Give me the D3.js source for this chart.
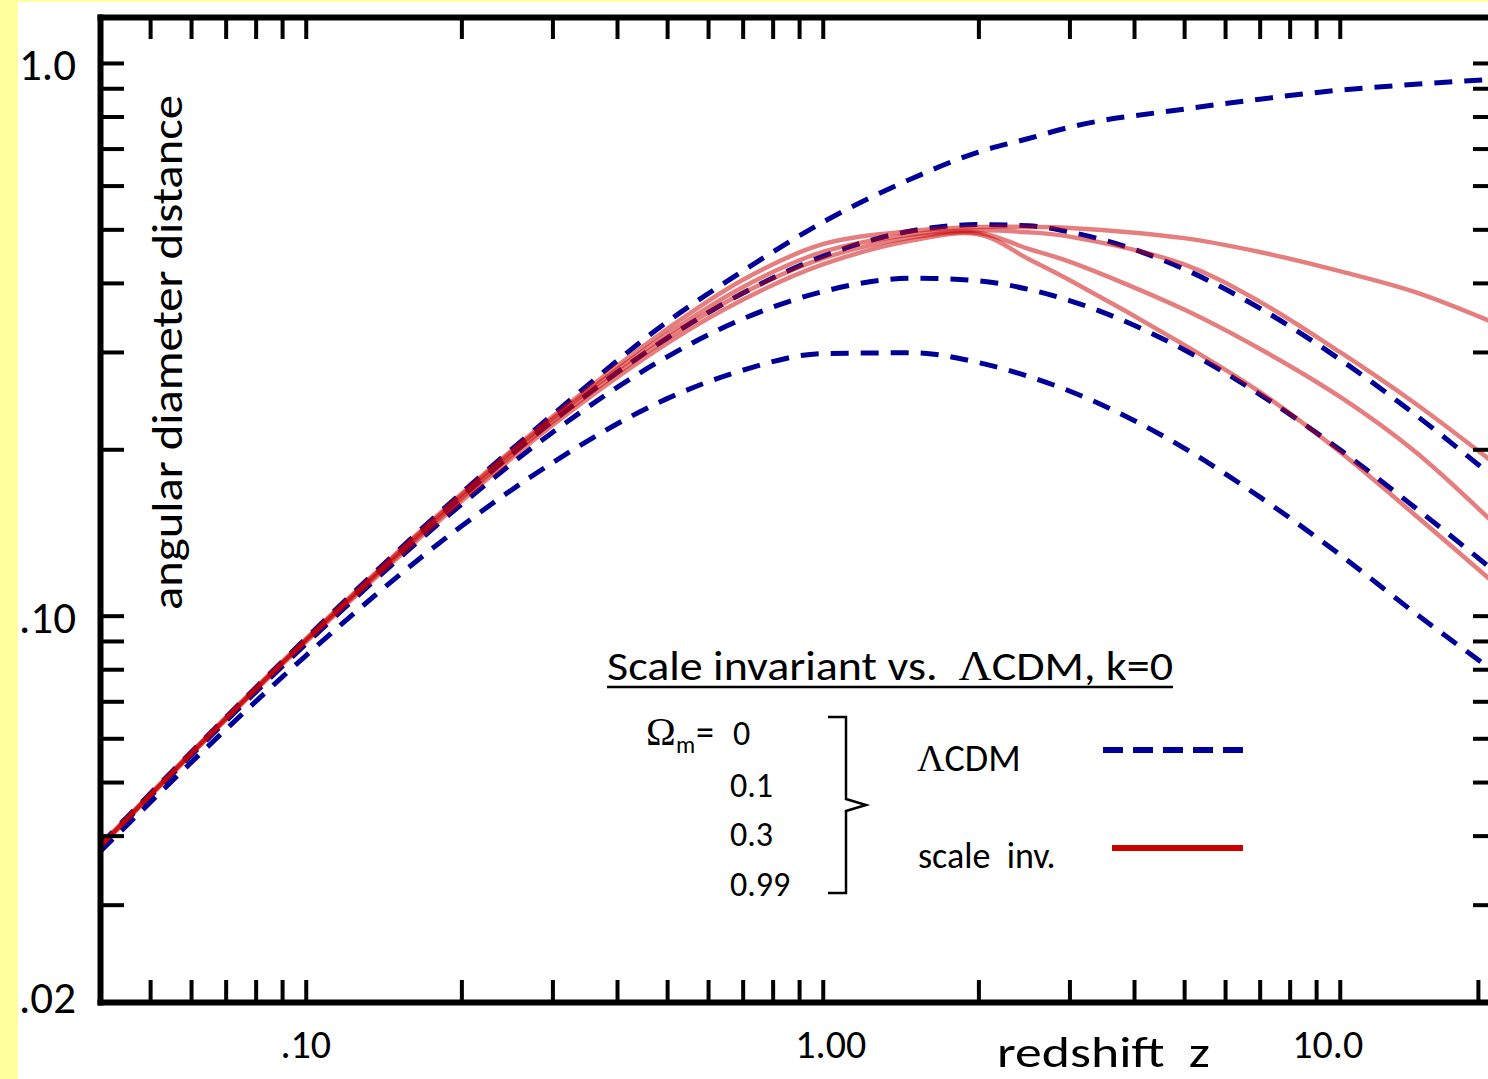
<!DOCTYPE html>
<html lang="en">
<head>
<meta charset="UTF-8">
<title>Angular diameter distance vs redshift</title>
<script src="https://d3js.org/d3.v7.min.js"></script>
<style>
  html, body { margin: 0; padding: 0; background: #ffff9e; }
  svg { display: block; }
  text { font-family: Carlito, Lato, "Open Sans", sans-serif; fill: #000; white-space: pre; }
  .greek { font-family: "Liberation Serif", serif; }
</style>
</head>
<body>
<svg width="1488" height="1079"></svg>
<script>
// redshift samples shared by all curves
const zValues = [0.04, 0.07, 0.1, 0.2, 0.3, 0.5, 0.7, 1, 1.5, 2, 2.5, 3, 5, 7, 10, 14, 20];

// LCDM, k=0 (dashed blue), Omega_m = 0, 0.1, 0.3, 0.99
const lcdm0   = [0.0385, 0.0654, 0.0909, 0.1667, 0.2308, 0.340, 0.420, 0.515, 0.620, 0.690, 0.730, 0.765, 0.825, 0.860, 0.893, 0.915, 0.935];
const lcdm01  = [0.0382, 0.0651, 0.0902, 0.1639, 0.2248, 0.3178, 0.3832, 0.4468, 0.4977, 0.5100, 0.5075, 0.4946, 0.4237, 0.360, 0.291, 0.231, 0.177];
const lcdm03  = [0.0381, 0.0644, 0.0888, 0.1589, 0.2145, 0.294, 0.3442, 0.3858, 0.4079, 0.4035, 0.3894, 0.3717, 0.3028, 0.2515, 0.1997, 0.1568, 0.120];
const lcdm099 = [0.0374, 0.0622, 0.0846, 0.1452, 0.1891, 0.2470, 0.2780, 0.2980, 0.2990, 0.2870, 0.2710, 0.2550, 0.2010, 0.1640, 0.129, 0.101, 0.079];

// scale invariant (solid red), same Omega_m values
const si0   = [0.0384, 0.0654, 0.0907, 0.166, 0.229, 0.330, 0.405, 0.470, 0.497, 0.505, 0.505, 0.503, 0.482, 0.455, 0.420, 0.385, 0.338];
const si01  = [0.0383, 0.0652, 0.0904, 0.165, 0.227, 0.323, 0.393, 0.455, 0.490, 0.498, 0.494, 0.485, 0.432, 0.370, 0.300, 0.242, 0.188];
const si03  = [0.0382, 0.0650, 0.0900, 0.163, 0.224, 0.317, 0.383, 0.443, 0.484, 0.493, 0.461, 0.437, 0.358, 0.304, 0.249, 0.198, 0.146];
const si099 = [0.0381, 0.0648, 0.0896, 0.161, 0.221, 0.311, 0.373, 0.432, 0.478, 0.490, 0.442, 0.405, 0.309, 0.254, 0.198, 0.152, 0.114];

// ticks and labels
const xTicks = [0.05, 0.06, 0.07, 0.08, 0.09, 0.1, 0.2, 0.3, 0.4, 0.5, 0.6, 0.7, 0.8, 0.9, 1, 2, 3, 4, 5, 6, 7, 8, 9, 10];
const xTicksExtra = [18.5];
const yTicks = [0.03, 0.04, 0.05, 0.06, 0.07, 0.08, 0.09, 0.1, 0.2, 0.3, 0.4, 0.5, 0.6, 0.7, 0.8, 0.9, 1.0];
const xLabels = [[0.1, ".10"], [1, "1.00"], [10, "10.0"]];
const yLabels = [[1.0, "1.0"], [0.1, ".10"], [0.02, ".02"]];
const omegaLabels = ["0", "0.1", "0.3", "0.99"];

const svg = d3.select("svg");
svg.append("rect").attr("x", 18).attr("y", 2).attr("width", 1470).attr("height", 1077).attr("fill", "#fff");

const x = d3.scaleLog().domain([0.04, 20]).range([100, 1495.4]);
const y = d3.scaleLog().domain([0.02, 1.211]).range([1002, 17]);

function styleAxis(g) {
    g.select(".domain").attr("stroke", "#000").attr("stroke-width", 6).attr("stroke-linecap", "square");
    g.selectAll(".tick line").attr("stroke", "#000").attr("stroke-width", 4);
    g.selectAll(".tick text").remove();
}

// curves (clipped to the frame)
svg.append("clipPath").attr("id", "plot")
    .append("rect").attr("x", 100).attr("y", 17).attr("width", 1395).attr("height", 985);

const line = d3.line().x(d => x(d[0])).y(d => y(d[1])).curve(d3.curveMonotoneX);
const sharpLine = d3.line().x(d => x(d[0])).y(d => y(d[1])).curve(d3.curveCatmullRom.alpha(0.5));
const plot = svg.append("g").attr("clip-path", "url(#plot)");

[lcdm0, lcdm01, lcdm03, lcdm099].forEach(vals => {
    plot.append("path")
        .attr("d", line(zValues.map((z, i) => [z, vals[i]])))
        .attr("fill", "none")
        .attr("stroke", "#000099")
        .attr("stroke-width", 5)
        .attr("stroke-dasharray", "18,12");
});
[si0, si01, si03, si099].forEach(vals => {
    plot.append("path")
        .attr("d", sharpLine(zValues.map((z, i) => [z, vals[i]])))
        .attr("fill", "none")
        .attr("stroke", "#cc0000")
        .attr("stroke-opacity", 0.5)
        .attr("stroke-width", 4.5);
});

// frame
svg.append("g").attr("transform", "translate(0,1002)")
    .call(d3.axisBottom(x).tickValues(xTicks.concat(xTicksExtra)).tickSize(-22).tickSizeOuter(0).tickFormat(""))
    .call(styleAxis);
svg.append("g").attr("transform", "translate(0,17)")
    .call(d3.axisTop(x).tickValues(xTicks).tickSize(-22).tickSizeOuter(0).tickFormat(""))
    .call(styleAxis);
svg.append("g").attr("transform", "translate(100,0)")
    .call(d3.axisLeft(y).tickValues(yTicks).tickSize(-24).tickSizeOuter(0).tickFormat(""))
    .call(styleAxis);
svg.append("g").attr("transform", "translate(1495,0)")
    .call(d3.axisRight(y).tickValues(yTicks).tickSize(-22).tickSizeOuter(0).tickFormat(""))
    .call(styleAxis);

// tick labels
svg.selectAll(".ylab").data(yLabels).enter().append("text")
    .attr("x", 19).attr("y", d => Math.min(y(d[0]), 996) + 17)
    .attr("font-size", 45).text(d => d[1]);
svg.selectAll(".xlab").data(xLabels).enter().append("text")
    .attr("x", d => x(d[0]) + (d[0] === 1 ? 8 : (d[0] === 10 ? -12 : 0)))
    .attr("y", 1058).attr("text-anchor", "middle")
    .attr("font-size", 40).text(d => d[1]);

// axis titles
svg.append("text").attr("x", 997).attr("y", 1067).attr("font-size", 44)
    .attr("textLength", 213).attr("lengthAdjust", "spacingAndGlyphs").text("redshift  z");
svg.append("text").attr("transform", "translate(182,610) rotate(-90)")
    .attr("font-size", 44).attr("textLength", 515).attr("lengthAdjust", "spacingAndGlyphs")
    .text("angular diameter distance");

// legend
const title = svg.append("text").attr("x", 607).attr("y", 680).attr("font-size", 42)
    .attr("textLength", 566).attr("lengthAdjust", "spacingAndGlyphs");
title.append("tspan").text("Scale invariant vs.  ");
title.append("tspan").attr("class", "greek").text("Λ");
title.append("tspan").text("CDM, k=0");
svg.append("line").attr("x1", 607).attr("x2", 1173).attr("y1", 687).attr("y2", 687)
    .attr("stroke", "#000").attr("stroke-width", 2.5);

const om = svg.append("text").attr("y", 745).attr("font-size", 36);
om.append("tspan").attr("class", "greek").attr("x", 646).attr("font-size", 40).text("Ω");
om.append("tspan").attr("x", 676).attr("dy", 8).attr("font-size", 24).text("m");
om.append("tspan").attr("x", 696).attr("dy", -8).text("=");
svg.selectAll(".omv").data(omegaLabels).enter().append("text")
    .attr("x", (d, i) => i === 0 ? 733 : 730)
    .attr("y", (d, i) => [745, 797, 846, 896][i])
    .attr("font-size", 34).text(d => d);

svg.append("path")
    .attr("d", "M828,717 H846 V799 L866,805 L846,811 V893 H828")
    .attr("fill", "none").attr("stroke", "#000").attr("stroke-width", 2.5);

const lc = svg.append("text").attr("x", 917).attr("y", 771).attr("font-size", 38);
lc.append("tspan").attr("class", "greek").text("Λ");
lc.append("tspan").text("CDM");
svg.append("line").attr("x1", 1103).attr("x2", 1243).attr("y1", 750).attr("y2", 750)
    .attr("stroke", "#000099").attr("stroke-width", 6).attr("stroke-dasharray", "20,10");

svg.append("text").attr("x", 918).attr("y", 868).attr("font-size", 36).text("scale  inv.");
svg.append("line").attr("x1", 1112).attr("x2", 1243).attr("y1", 848).attr("y2", 848)
    .attr("stroke", "#cc0000").attr("stroke-width", 6);
</script>
</body>
</html>
